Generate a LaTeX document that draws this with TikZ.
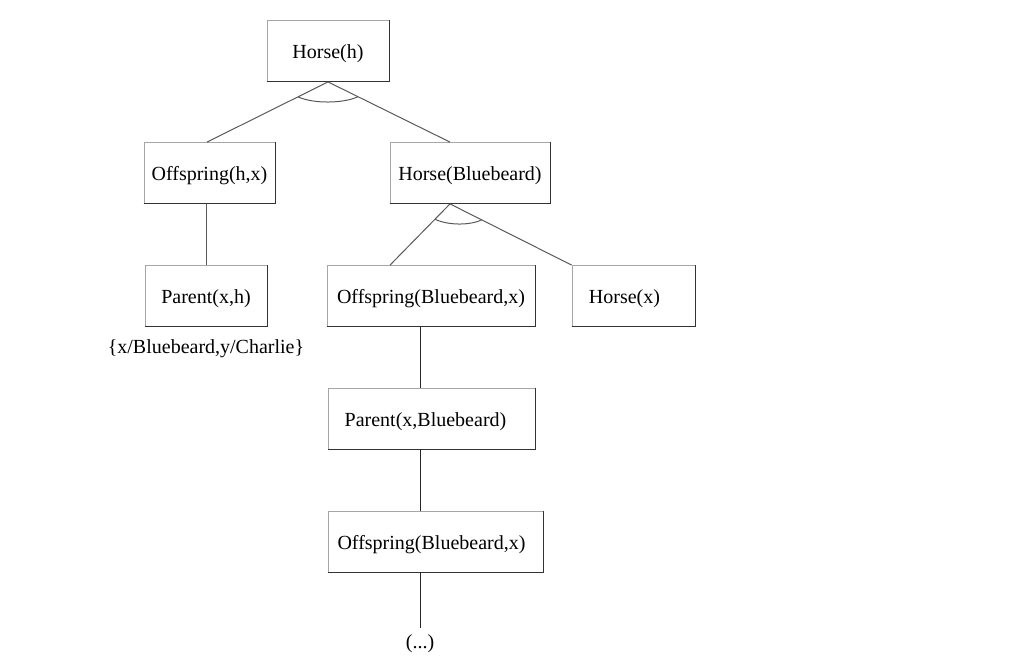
\documentclass[tikz,border=0pt]{standalone}
\usepackage{fontspec}
\setmainfont{Liberation Serif}
\begin{document}
\begin{tikzpicture}[x=1pt,y=-1pt,
  box/.style={draw=black!35, line width=0.8pt, minimum height=61pt, inner sep=0pt, text height=17.5pt, text depth=2pt, font=\fontsize{20}{24}\selectfont},
  lbl/.style={inner sep=2pt, text height=17.5pt, text depth=2pt, font=\fontsize{20}{24}\selectfont},
  edge/.style={draw=black!65, line width=1pt},
  shade/.style={draw=black!80, line width=0.9pt}]
\useasboundingbox (0,0) rectangle (1032,664);
\node[box, minimum width=122pt] (hh) at (328,51) {Horse(h)};
\node[box, minimum width=131pt] (ohx) at (209.5,173) {Offspring(h,x)};
\node[box, minimum width=160pt] (hb) at (470,173) {Horse(Bluebeard)};
\node[box, minimum width=122pt] (pxh) at (206,295.5) {Parent(x,h)};
\node[box, minimum width=208pt] (obx) at (431,296) {Offspring(Bluebeard,x)};
\node[box, minimum width=123pt] (hx) at (633.5,296) {\hspace*{-18pt}Horse(x)};
\node[box, minimum width=207pt] (pxb) at (431.5,418.5) {\hspace*{-12pt}Parent(x,Bluebeard)};
\node[box, minimum width=215pt] (obx2) at (435.5,541.5) {\hspace*{-8pt}Offspring(Bluebeard,x)};
\node[lbl] (sub) at (206,346) {\{x/Bluebeard,y/Charlie\}};
\node[lbl] (dots) at (420,641) {(...)};
\foreach \n in {hh,ohx,hb,pxh,obx,hx,pxb,obx2}
  \draw[shade] (\n.south west) -- (\n.south east) -- (\n.north east);
% edges from Horse(h)
\draw[edge] (hh.south) -- ([xshift=-2.5pt]ohx.north) coordinate[pos=0.248] (a1);
\draw[edge] (hh.south) -- ([xshift=-20pt]hb.north) coordinate[pos=0.246] (a2);
\draw[edge] (a1) .. controls +(15,7) and +(-15,7) .. (a2);
% Offspring(h,x) to Parent(x,h)
\draw[edge] (pxh.north |- ohx.south) -- (pxh.north);
% edges from Horse(Bluebeard)
\draw[edge] ([xshift=-20pt]hb.south) -- ([xshift=-41pt]obx.north) coordinate[pos=0.25] (b1);
\draw[edge] ([xshift=-20pt]hb.south) -- (hx.north west) coordinate[pos=0.26] (b2);
\draw[edge] (b1) .. controls +(12,6) and +(-12,6) .. (b2);
% vertical chain
\draw[edge, draw=black!85] (obx.south -| dots) -- (pxb.north -| dots);
\draw[edge, draw=black!85] (pxb.south -| dots) -- (obx2.north -| dots);
\draw[edge, draw=black!85] (obx2.south -| dots) -- ([yshift=1pt]dots.north);
\end{tikzpicture}
\end{document}
